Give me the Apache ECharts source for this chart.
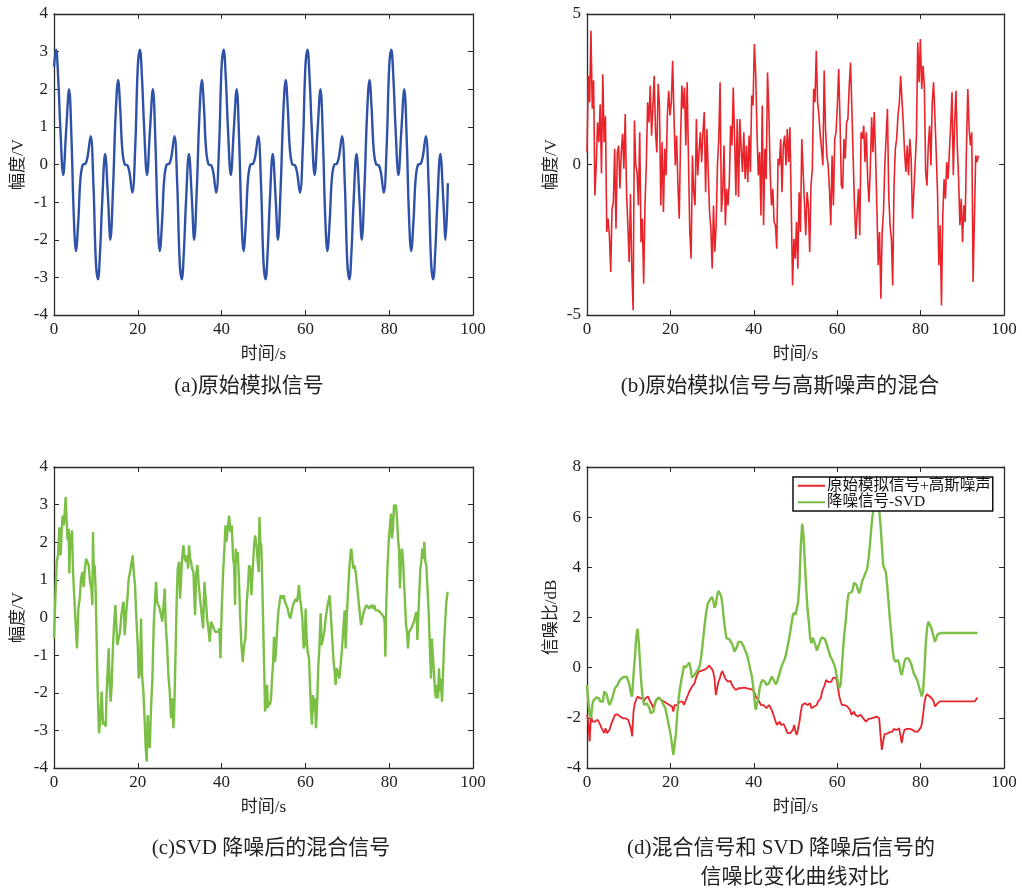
<!DOCTYPE html>
<html>
<head>
<meta charset="utf-8">
<script src="https://cdn.jsdelivr.net/npm/echarts@6/dist/echarts.min.js"></script>
<style>
  html, body { margin: 0; background: #fff; }
  #chart { width: 1022px; height: 892px; }
</style>
</head>
<body>
<div id="chart"></div>
<script>
// (a) original simulated signal, [time s, amplitude V]
const originalSignal = [
  [0,2.6],[0.5,3.05],[1,2.3],[1.5,1],[2.2,-0.28],[2.9,0.9],[3.6,2],[4.2,0.6],[4.7,-1.3],[5.25,-2.3],[5.8,-1.5],[6.3,-0.4],[6.9,0],[7.5,0.02],[8,0.2],[8.75,0.75],[9.4,-0.5],[10,-2.6],[10.5,-3.05],[11,-2.3],[11.5,-1],[12.2,0.28],[12.9,-0.9],[13.45,-2],[14.1,-0.6],[14.7,1.3],[15.3,2.25],[15.8,1.5],[16.3,0.4],[16.9,0],[17.5,-0.02],[18,-0.2],[18.7,-0.75],[19.4,0.5],
  [20,2.6],[20.5,3.05],[21,2.3],[21.5,1],[22.2,-0.28],[22.9,0.9],[23.6,2],[24.2,0.6],[24.7,-1.3],[25.25,-2.3],[25.8,-1.5],[26.3,-0.4],[26.9,0],[27.5,0.02],[28,0.2],[28.75,0.75],[29.4,-0.5],[30,-2.6],[30.5,-3.05],[31,-2.3],[31.5,-1],[32.2,0.28],[32.9,-0.9],[33.45,-2],[34.1,-0.6],[34.7,1.3],[35.3,2.25],[35.8,1.5],[36.3,0.4],[36.9,0],[37.5,-0.02],[38,-0.2],[38.7,-0.75],[39.4,0.5],
  [40,2.6],[40.5,3.05],[41,2.3],[41.5,1],[42.2,-0.28],[42.9,0.9],[43.6,2],[44.2,0.6],[44.7,-1.3],[45.25,-2.3],[45.8,-1.5],[46.3,-0.4],[46.9,0],[47.5,0.02],[48,0.2],[48.75,0.75],[49.4,-0.5],[50,-2.6],[50.5,-3.05],[51,-2.3],[51.5,-1],[52.2,0.28],[52.9,-0.9],[53.45,-2],[54.1,-0.6],[54.7,1.3],[55.3,2.25],[55.8,1.5],[56.3,0.4],[56.9,0],[57.5,-0.02],[58,-0.2],[58.7,-0.75],[59.4,0.5],
  [60,2.6],[60.5,3.05],[61,2.3],[61.5,1],[62.2,-0.28],[62.9,0.9],[63.6,2],[64.2,0.6],[64.7,-1.3],[65.25,-2.3],[65.8,-1.5],[66.3,-0.4],[66.9,0],[67.5,0.02],[68,0.2],[68.75,0.75],[69.4,-0.5],[70,-2.6],[70.5,-3.05],[71,-2.3],[71.5,-1],[72.2,0.28],[72.9,-0.9],[73.45,-2],[74.1,-0.6],[74.7,1.3],[75.3,2.25],[75.8,1.5],[76.3,0.4],[76.9,0],[77.5,-0.02],[78,-0.2],[78.7,-0.75],[79.4,0.5],
  [80,2.6],[80.5,3.05],[81,2.3],[81.5,1],[82.2,-0.28],[82.9,0.9],[83.6,2],[84.2,0.6],[84.7,-1.3],[85.25,-2.3],[85.8,-1.5],[86.3,-0.4],[86.9,0],[87.5,0.02],[88,0.2],[88.75,0.75],[89.4,-0.5],[90,-2.6],[90.5,-3.05],[91,-2.3],[91.5,-1],[92.2,0.28],[92.9,-0.9],[93.45,-2],[94,-0.5]
];

// (b) signal + gaussian noise, one sample every stepB seconds
const stepB = 0.316;
const noisySignal = [
  0.4, 2.95, 2.07, 4.44, 1.85, 2.8, -1.03, -0.03, 1.4, 0.74,
  2.0, -0.3, 3.0, 0.74, 1.6, -2.24, -1.8, -2.35, -3.57, -1.47,
  -1.25, 0.52, -2.13, 0.4, 0.63, -0.8, 0.4, 1.02, -0.14, 1.68,
  -0.92, -2.02, -3.24, -0.97, -3.46, -4.84, 1.46, -0.03, -0.25, -1.36,
  1.07, -2.58, -1.8, -3.96, -1.36, -0.03, 2.07, 1.4, 2.62, 0.96,
  1.9, 2.95, 1.07, 0.4, 2.68, 1.96, -1.36, 0.74, -1.58, 0.52,
  -0.36, 1.63, 2.45, 1.63, 2.07, 3.45, 1.63, -0.03, 0.96, -0.7,
  -1.8, 0.85, 2.62, 1.85, 2.56, 0.63, 2.73, 0.19, -2.24, -3.13,
  0.3, -0.92, -1.36, 1.51, -0.36, 0.4, 1.07, 0.08, 1.07, 1.74,
  -0.92, 1.18, -0.25, -1.58, -2.13, -3.46, -1.36, -2.9, -2.02, -0.03,
  0.85, 2.73, -1.58, -0.92, 0.63, -2.02,
  -0.81, -1.36, -0.59, 1.29, 0.63, 2.56, 0.85, -1.03, 1.51, -1.08,
  1.51, 0.52, -0.25, 1.07, -0.48, 0.63, -0.59, 0.96, -0.25, 2.29,
  1.96, 4.0, 3.06, 1.07, -0.36, 0.41, -1.69, 1.96, -2.02, 0.52,
  -0.48, 3.06, 1.74, -0.25, -1.36, -0.81, -1.91, -2.02, -2.8, 0.19,
  -0.03, 0.85, -0.92, 0.63, 0.96, -0.03, 1.18, 0.08, 1.24, -1.36,
  -4.02, -2.47, -3.13, -1.91, -3.46, -0.92, -2.24, 0.85, 0.85, -1.25,
  -2.35, -0.92, -1.36, -2.91, -0.7, -0.14, 2.51, 2.07, 3.78, 2.07,
  1.63, 0.96, 0.52, -0.03, 3.12, 1.18, 0.3, -0.03, -0.81, -2.02,
  0.3, -1.36, 0.85, 1.07, 1.96, 3.17, 1.51, -0.7, -0.81, 0.85,
  0.19, 1.4, 1.51, 2.62, 3.39, 1.85, 0.19, -1.36, -2.47, -1.58,
  -0.81, -2.35, 1.07, 0.85,
  1.29, 0.08, 1.07, -0.48, -1.25, -0.14, 1.57, 0.41, 1.74, 0.3,
  -1.47, -3.35, -2.24, -4.46, -2.24, -1.58, -0.03, -0.03, 1.85, -1.03,
  -2.02, -2.47, -4.02, -0.7, 0.52, 0.85, 1.63, 2.01, 2.95, 2.18,
  1.4, 0.41, -0.25, 0.63, -0.36, 0.85, 0.19, -1.8, -0.92, -0.03,
  0.96, 4.06, 2.73, 4.17, 2.51, 3.28, 2.62, -0.25, -0.7, 0.63,
  1.29, -0.03, 2.07, 2.73, 1.63, 0.41, -0.92, -3.35, -2.02, -4.68,
  -1.69, -0.48, -1.14, 0.08, -0.48, 0.41, 1.29, 2.4, -0.36, 1.4,
  2.45, 0.63, -0.48, -2.02, -1.14, -2.58, -1.36, -1.91, 0.63, 2.51,
  1.18, 0.63, 1.07, -3.9, -1.8, 0.3, 0.08, 0.3
];

// (c) mixed signal after SVD denoising, [time s, amplitude V]
const svdSignal = [
  [0,-0.56],[0.32,0.5],[0.64,1.48],[0.96,1.65],[1.27,2.4],[1.59,1.65],[1.83,2.32],[2.07,2.71],[2.31,2.45],[2.55,2.76],
  [2.79,3.2],[3.02,2.54],[3.26,2.05],[3.5,2.36],[3.66,1.17],[3.9,2.23],[4.14,1.83],[4.3,2.32],[4.54,1.21],[4.86,0.5],
  [5.17,-0.2],[5.49,-0.82],[5.81,0.24],[6.13,0.5],[6.45,1.03],[6.76,1.21],[7.08,0.81],[7.32,1.21],[7.64,1.56],[7.96,1.48],
  [8.28,1.39],[8.6,0.95],[8.91,0.77],[9.15,0.33],[9.31,2.27],[9.47,1.3],[9.71,1.39],[9.95,0.68],[10.19,-0.65],[10.43,-1.97],
  [10.74,-3.08],[11.06,-2.68],[11.38,-1.97],[11.7,-2.85],[12.01,-2.77],[12.33,-2.9],[12.57,-1.97],[12.81,-1.97],[13.05,-0.82],[13.29,-1.79],
  [13.53,-2.24],[13.77,-1.79],[14.09,-0.73],[14.33,-0.2],[14.64,0.33],[14.88,0.37],[15.12,-0.73],[15.44,-0.73],[15.76,-0.38],[16.07,0.06],
  [16.39,0.33],[16.63,0.42],[16.87,-0.47],[17.19,0.06],[17.51,0.5],[17.83,1.03],[18.15,1.21],[18.46,1.21],[18.78,1.65],[19.02,1.21],
  [19.34,0.86],[19.66,-0.03],[19.98,-0.73],[20.22,-1.62],[20.54,-1.44],[20.78,-0.03],[21.02,-1.53],[21.33,-1.97],[21.65,-2.77],[21.89,-3.47],
  [22.13,-3.83],[22.37,-2.59],[22.61,-3.21],[22.85,-3.47],[23.16,-2.41],[23.48,-1.62],[23.8,-0.2],[24.12,0.5],[24.36,0.95],[24.6,0.42],
  [24.91,0.33],[25.23,0.24],[25.55,0.06],[25.87,-0.11],[26.19,-0.11],[26.43,0.77],[26.67,-0.2],[26.98,-0.73],[27.3,-1.53],[27.62,-1.97],
  [27.94,-2.68],[28.26,-2.15],[28.5,-2.94],[28.74,-2.32],[29.05,-0.73],[29.29,0.5],[29.53,1.3],[29.85,1.48],[30.09,0.5],[30.33,1.03],
  [30.57,1.56],[30.88,1.92],[31.2,1.56],[31.52,1.48],[31.76,1.65],[32,1.3],[32.24,1.92],[32.48,1.56],[32.72,1.48],[32.95,1.3],
  [33.27,1.21],[33.51,0.5],[33.67,0.06],[33.91,1.12],[34.23,1.39],[34.55,0.86],[34.86,0.5],[35.18,0.15],[35.58,-0.29],[35.9,0.95],
  [36.22,0.5],[36.54,-0.03],[36.85,-0.29],[37.17,-0.65],[37.49,-0.11],[37.81,-0.2],[38.13,-0.29],[38.45,-0.38],[38.85,-0.34],[39.24,-0.38],
  [39.48,-0.29],[39.72,-1.08],[40.04,0.24],[40.36,1.21],[40.68,1.83],[40.92,2.45],[41.15,2.01],[41.47,2.36],[41.79,2.71],[42.11,2.27],
  [42.43,2.45],[42.75,1.56],[42.98,1.39],[43.22,0.33],[43.38,1.83],[43.62,1.48],[43.86,1.74],[44.1,1.12],[44.42,0.06],[44.73,-0.73],
  [45.05,-1.18],[45.37,-0.73],[45.69,-0.56],[46.01,0.42],[46.33,0.86],[46.56,1.39],[46.88,1.3],[47.12,0.59],[47.44,1.3],[47.76,1.92],
  [48,2.18],[48.32,1.92],[48.63,1.48],[48.87,1.21],[49.03,2.67],[49.24,2.01],[49.48,1.92],[49.72,0.86],[49.96,-0.38],[50.2,-1.53],
  [50.36,-2.5],[50.6,-2.32],[50.84,-1.79],[51.07,-2.41],[51.31,-2.24],[51.55,-2.32],[51.79,-2.15],[52.03,-1.62],[52.27,-1.26],[52.51,-0.51],
  [52.75,-1.18],[52.98,-0.91],[53.22,-0.38],[53.54,0.15],[53.86,0.42],[54.1,0.59],[54.34,0.64],[54.57,0.5],[54.81,0.59],[55.13,0.42],
  [55.45,0.33],[55.77,0.24],[56.09,0.06],[56.4,-0.03],[56.72,0.15],[57.04,0.33],[57.36,0.42],[57.68,0.5],[58,0.42],[58.23,0.59],
  [58.47,0.86],[58.71,0.5],[58.95,0.33],[59.27,-0.03],[59.59,-0.82],[59.82,-0.73],[60.06,0.24],[60.3,-0.56],[60.54,-0.91],[60.86,-1.09],
  [61.1,-1.79],[61.34,-2.5],[61.58,-2.85],[61.81,-2.06],[62.05,-2.5],[62.29,-2.15],[62.53,-2.94],[62.77,-2.41],[63.09,-1.26],[63.33,-0.82],
  [63.64,0.11],[63.88,-0.73],[64.2,-0.56],[64.52,-0.38],[64.84,-0.03],[65.16,0.24],[65.47,0.42],[65.79,0.59],[66.03,0.15],[66.35,-0.47],
  [66.67,-1.09],[66.99,-1.44],[67.22,-1.79],[67.46,-1.35],[67.78,-1.44],[68.1,-1.62],[68.42,-1.26],[68.74,-0.82],[69.05,-0.29],[69.37,0.19],
  [69.61,-0.82],[69.85,-0.03],[70.17,0.68],[70.49,1.3],[70.8,1.74],[70.96,1.83],[71.2,1.56],[71.44,1.3],[71.68,1.39],[72,1.21],
  [72.32,0.86],[72.63,0.5],[72.95,0.15],[73.27,-0.2],[73.59,-0.03],[73.91,0.15],[74.22,0.24],[74.54,0.33],[74.86,0.37],[75.18,0.24],
  [75.5,0.28],[75.81,0.33],[76.13,0.24],[76.45,0.33],[76.77,0.19],[77.09,0.15],[77.41,0.19],[77.72,0.15],[78.04,0.11],[78.36,0.06],
  [78.68,0.02],[78.92,-0.11],[79.08,-1.04],[79.32,0.42],[79.55,1.21],[79.87,2.01],[80.19,2.45],[80.43,2.76],[80.67,2.1],[80.91,2.36],
  [81.14,2.98],[81.38,2.98],[81.62,2.98],[81.86,2.63],[82.1,2.1],[82.34,1.83],[82.58,0.77],[82.82,1.65],[83.05,1.83],[83.29,1.56],
  [83.53,0.95],[83.77,0.42],[84.01,-0.2],[84.25,-0.38],[84.49,-0.82],[84.73,-0.38],[84.96,-0.38],[85.28,-0.29],[85.6,-0.2],[85.92,-0.11],
  [86.24,0.06],[86.56,0.15],[86.71,-0.6],[86.95,0.06],[87.19,0.68],[87.43,1.3],[87.67,1.48],[87.91,1.83],[88.15,1.56],[88.38,2.01],
  [88.62,1.48],[88.86,1.39],[89.1,0.86],[89.42,0.15],[89.74,-0.91],[89.98,-1.62],[90.21,-0.56],[90.45,-1.09],[90.69,-1.44],[90.93,-1.97],
  [91.17,-2.15],[91.41,-1.79],[91.65,-2.15],[91.89,-1.35],[92.12,-1.97],[92.36,-1.62],[92.6,-2.24],[92.84,-1.53],[93.08,-0.73],[93.32,-0.2],
  [93.64,0.42],[93.95,0.68]
];

// (d) SNR curves, one sample every stepD seconds
const stepD = 0.3185;
const snrNoisy = [
  -1.88, -2.15, -2.94, -1.88, -2.15, -2.08, -2.15, -2.15, -2.08, -2.15,
  -2.28, -2.41, -2.48, -2.61, -2.41, -2.61, -2.68, -2.48, -2.28, -2.15,
  -2.02, -1.88, -1.82, -1.86, -1.88, -1.95, -2.02, -2.02, -2.08, -2.02,
  -2.02, -2.08, -2.15, -2.41, -2.74, -1.75, -1.42, -1.35, -1.15, -1.19,
  -1.22, -1.15, -1.22, -1.35, -1.22, -1.19, -1.15, -1.29, -1.35, -1.49,
  -1.62, -1.42, -1.29, -1.22, -1.19, -1.22, -1.29, -1.33, -1.35, -1.38,
  -1.42, -1.46, -1.49, -1.46, -1.55, -1.75, -1.49, -1.55, -1.49, -1.49,
  -1.35, -1.42, -1.35, -1.49, -1.42, -1.22, -1.09, -0.95, -0.89, -0.76,
  -0.69, -0.62, -0.42, -0.29, -0.16, -0.16, -0.13, -0.16, -0.09, -0.05,
  -0.03, 0.0, 0.08, 0.04, -0.05, -0.16, -0.42, -1.09, -0.82, -0.56,
  -0.42, -0.23, -0.13, -0.29, -0.42, -0.45, -0.56, -0.58, -0.53, -0.66,
  -0.76, -0.82, -0.89, -0.89, -0.82, -0.8, -0.82, -0.8, -0.8, -0.82,
  -0.82, -0.85, -0.85, -0.86, -0.86, -0.85, -0.95, -1.15, -1.22, -1.29,
  -1.35, -1.49, -1.42, -1.49, -1.55, -1.62, -1.55, -1.49, -1.55, -1.68,
  -1.82, -1.88, -2.15, -2.28, -2.21, -2.15, -2.28, -2.21, -2.25, -2.35,
  -2.41, -2.61, -2.55, -2.61, -2.57, -2.48, -2.28, -2.55, -2.68, -2.61,
  -2.15, -1.75, -1.49,
  -1.49, -1.42, -1.35, -1.49, -1.55, -1.42, -1.62, -1.68, -1.55, -1.59,
  -1.49, -1.35, -1.29, -1.22, -0.95, -0.89, -0.69, -0.49, -0.42, -0.58,
  -0.53, -0.56, -0.42, -0.49, -0.4, -0.49, -0.82, -1.15, -1.35, -1.49,
  -1.42, -1.49, -1.46, -1.55, -1.62, -1.68, -1.88, -1.82, -1.75, -1.88,
  -1.82, -1.95, -2.02, -1.88, -1.95, -2.02, -2.04, -2.15, -2.08, -2.04,
  -1.99, -2.02, -2.02, -1.99, -2.02, -1.95, -1.95, -2.02, -2.68, -3.28,
  -2.94, -2.65, -2.65, -2.63, -2.61, -2.57, -2.57, -2.55, -2.44, -2.44,
  -2.49, -2.47, -2.41, -2.48, -3.01, -2.68, -2.48, -2.48, -2.44, -2.41,
  -2.44, -2.48, -2.48, -2.52, -2.55, -2.61, -2.55, -2.61, -2.41, -2.28,
  -1.88, -1.42, -1.15, -1.06, -1.11, -1.15, -1.22, -1.25, -1.35, -1.55,
  -1.59, -1.42, -1.35, -1.34, -1.34, -1.34, -1.34, -1.34, -1.34, -1.34,
  -1.34, -1.34, -1.34, -1.34, -1.34, -1.34, -1.34, -1.34, -1.34, -1.34,
  -1.34, -1.34, -1.34, -1.34, -1.34, -1.34, -1.34, -1.34, -1.34, -1.34,
  -1.34, -1.19
];
const snrSvd = [
  -0.69, -1.35, -1.88, -2.02, -1.49, -1.29, -1.22, -1.19, -1.17, -1.22,
  -1.35, -1.29, -1.35, -0.95, -0.95, -1.09, -1.35, -1.49, -1.42, -1.22,
  -1.02, -0.82, -0.76, -0.69, -0.56, -0.49, -0.42, -0.36, -0.36, -0.42,
  -0.37, -0.42, -0.69, -1.02, -1.15, -0.29, 0.37, 1.17, 1.56, 1.03,
  0.11, -0.69, -1.22, -1.49, -1.49, -1.42, -1.49, -1.62, -1.82, -1.82,
  -1.75, -1.49, -1.29, -1.22, -1.19, -1.22, -1.29, -1.42, -1.49, -1.62,
  -1.88, -2.15, -2.41, -2.68, -3.08, -3.48, -3.54, -2.61, -1.82, -1.22,
  -0.82, -0.49, -0.23, 0.08, 0.0, -0.03, 0.13, 0.21, -0.03, -0.4,
  -0.42, -0.29, -0.2, -0.13, -0.05, 0.11, 0.44, 0.9, 1.43, 1.9,
  2.29, 2.56, 2.65, 2.72, 2.82, 2.69, 2.39, 2.49, 2.89, 3.06,
  3.02, 2.86, 2.49, 1.96, 1.5, 1.17, 1.1, 1.14, 1.1, 0.97,
  0.84, 0.64, 0.6, 0.84, 1.03, 1.1, 1.03, 0.94, 0.84, 0.7,
  0.57, 0.41, 0.17, -0.09, -0.32, -0.69, -1.22, -1.68, -1.75, -1.22,
  -0.82, -0.62, -0.49, -0.45, -0.56, -0.69, -0.76, -0.62, -0.49, -0.36,
  -0.36, -0.53, -0.66, -0.58, -0.4, -0.23, -0.03, 0.13, 0.24, 0.37,
  0.57, 0.84, 1.1, 1.41, 1.76, 2.1, 2.2, 2.1, 2.1, 2.63,
  3.42, 4.88, 5.74,
  5.28, 4.22, 3.22, 2.36, 1.83, 1.21, 0.97, 1.19, 1.14, 0.9,
  0.68, 0.73, 0.97, 1.13, 1.21, 1.23, 1.14, 1.01, 0.84, 0.66,
  0.48, 0.37, 0.27, 0.13, -0.03, -0.33, -0.6, -0.82, -0.66, 0.11,
  0.9, 1.5, 1.96, 2.63, 2.96, 3.02, 3.0, 3.09, 3.39, 3.46,
  3.29, 3.09, 2.96, 3.16, 3.42, 3.55, 3.69, 3.75, 3.95, 4.35,
  4.88, 5.54, 6.07, 6.34, 6.6, 6.8, 6.7, 6.3, 5.68, 4.88,
  4.08, 3.95, 3.82, 3.29, 2.63, 1.96, 1.43, 0.77, 0.37, 0.24,
  0.3, 0.3, 0.17, -0.16, -0.29, -0.03, 0.24, 0.37, 0.37, 0.37,
  0.3, 0.17, -0.03, -0.23, -0.29, -0.42, -0.56, -0.76, -0.95, -1.15,
  -0.95, -0.16, 0.9, 1.56, 1.83, 1.76, 1.63, 1.43, 1.23, 1.03,
  1.1, 1.33, 1.38, 1.38, 1.38, 1.38, 1.38, 1.38, 1.38, 1.38,
  1.38, 1.38, 1.38, 1.38, 1.38, 1.38, 1.38, 1.38, 1.38, 1.38,
  1.38, 1.38, 1.38, 1.38, 1.38, 1.38, 1.38, 1.38, 1.38, 1.38,
  1.38, 1.38
];

const captions = [
  '(a)原始模拟信号',
  '(b)原始模拟信号与高斯噪声的混合',
  '(c)SVD 降噪后的混合信号',
  '(d)混合信号和 SVD 降噪后信号的',
  '信噪比变化曲线对比'
];
const legendNames = ['原始模拟信号+高斯噪声', '降噪信号-SVD'];

const FONT = "'Liberation Serif', 'Noto Sans CJK SC', serif";
const AXIS = '#2b2b2b';

const chart = echarts.init(document.getElementById('chart'), null, { renderer: 'canvas' });

const grids = [
  { left: 54, top: 14, width: 419, height: 301 },
  { left: 587, top: 14, width: 417, height: 301 },
  { left: 54, top: 467, width: 419, height: 301 },
  { left: 587, top: 467, width: 417, height: 301 }
];

function xAxis(gridIndex, pos) {
  const main = pos === 'bottom';
  return {
    type: 'value', gridIndex, position: pos,
    min: 0, max: 100, interval: 20,
    name: main ? '时间/s' : '',
    nameLocation: 'middle', nameGap: 31,
    nameTextStyle: { fontFamily: FONT, fontSize: 17, color: '#222' },
    axisLine: { show: true, onZero: false, lineStyle: { color: AXIS, width: 1.3 } },
    axisTick: { show: true, inside: true, length: 5, lineStyle: { color: AXIS } },
    axisLabel: { show: main, margin: 6, fontFamily: FONT, fontSize: 17, color: '#222' },
    splitLine: { show: false }
  };
}

function yAxis(gridIndex, pos, min, max, interval, name) {
  const main = pos === 'left';
  return {
    type: 'value', gridIndex, position: pos,
    min, max, interval,
    name: main ? name : '',
    nameLocation: 'middle', nameGap: 27,
    nameTextStyle: { fontFamily: FONT, fontSize: 17, color: '#222' },
    axisLine: { show: true, onZero: false, lineStyle: { color: AXIS, width: 1.3 } },
    axisTick: { show: true, inside: true, length: 5, lineStyle: { color: AXIS } },
    axisLabel: { show: main, margin: 6, fontFamily: FONT, fontSize: 17, color: '#222' },
    splitLine: { show: false }
  };
}

const yRanges = [
  [-4, 4, 1, '幅度/V'],
  [-5, 5, 5, '幅度/V'],
  [-4, 4, 1, '幅度/V'],
  [-4, 8, 2, '信噪比/dB']
];

const xAxes = [];
const yAxes = [];
for (let i = 0; i < 4; i++) xAxes.push(xAxis(i, 'bottom'));
for (let i = 0; i < 4; i++) xAxes.push(xAxis(i, 'top'));
for (let i = 0; i < 4; i++) yAxes.push(yAxis(i, 'left', ...yRanges[i]));
for (let i = 0; i < 4; i++) yAxes.push(yAxis(i, 'right', ...yRanges[i]));

function lineSeries(name, idx, data, color, width, smooth) {
  return {
    name, type: 'line', xAxisIndex: idx, yAxisIndex: idx, data,
    showSymbol: false, symbol: 'none', smooth: smooth || false,
    lineStyle: { color, width }, itemStyle: { color },
    animation: false, silent: true
  };
}

const RED = '#e8242b';
const GREEN = '#7bbf46';
const BLUE = '#2f51a8';

function captionText(text, x, y) {
  return {
    type: 'text', x, y,
    style: { text, font: '21px ' + FONT, fill: '#222', textAlign: 'center', textVerticalAlign: 'middle' }
  };
}

const option = {
  animation: false,
  grid: grids.map(g => Object.assign({ containLabel: false, outerBoundsMode: 'none' }, g)),
  xAxis: xAxes,
  yAxis: yAxes,
  legend: {
    data: legendNames,
    left: 793, top: 477,
    orient: 'vertical',
    icon: 'rect', itemWidth: 27, itemHeight: 2, itemGap: 1,
    backgroundColor: '#fff', borderColor: '#111', borderWidth: 1.5, borderRadius: 0,
    padding: [1, 2, 1, 5],
    textStyle: { fontFamily: FONT, fontSize: 15.5, color: '#111', padding: [0, 0, 0, -3] }
  },
  series: [
    lineSeries('原始模拟信号', 0, originalSignal, BLUE, 2.4, 0.4),
    lineSeries('混合信号', 1, noisySignal.map((v, i) => [i * stepB, v]), RED, 1.6),
    lineSeries('SVD', 2, svdSignal, GREEN, 2.4),
    lineSeries(legendNames[0], 3, snrNoisy.map((v, i) => [i * stepD, v]), RED, 1.8),
    lineSeries(legendNames[1], 3, snrSvd.map((v, i) => [i * stepD, v]), GREEN, 2.4)
  ],
  graphic: [
    captionText(captions[0], 249, 386),
    captionText(captions[1], 780, 386),
    captionText(captions[2], 271, 848),
    captionText(captions[3], 781, 848),
    captionText(captions[4], 795, 877)
  ]
};

chart.setOption(option);
</script>
</body>
</html>
